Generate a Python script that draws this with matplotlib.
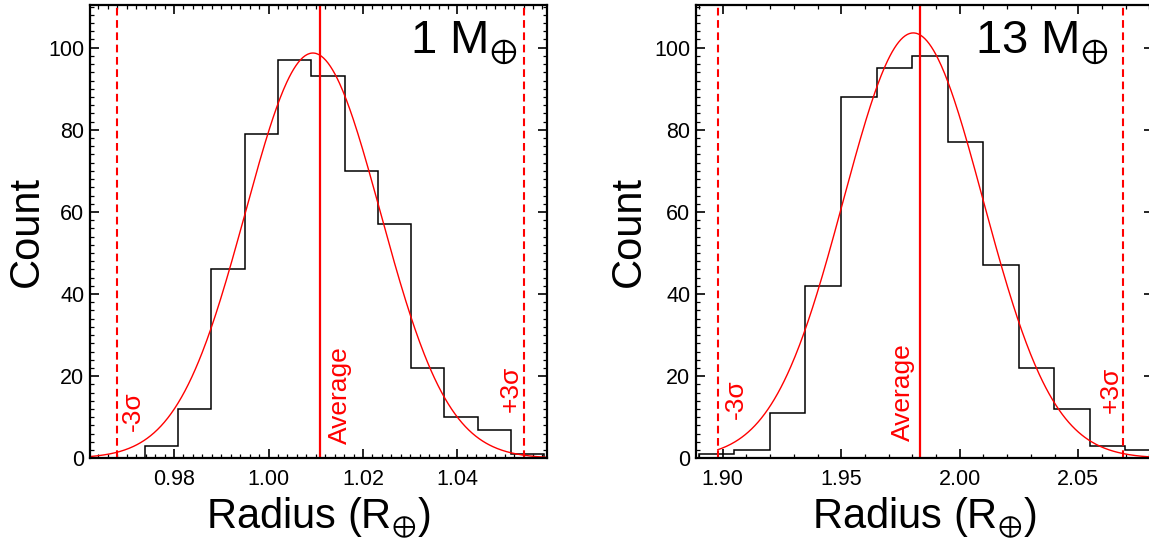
import numpy as np
import matplotlib
matplotlib.use("Agg")
import matplotlib.pyplot as plt
from matplotlib.ticker import MultipleLocator

plt.rcParams['font.family'] = ['Liberation Sans', 'DejaVu Sans']
plt.rcParams['mathtext.fontset'] = 'custom'
plt.rcParams['mathtext.rm'] = 'Liberation Sans'
plt.rcParams['mathtext.it'] = 'Liberation Sans:italic'
plt.rcParams['mathtext.fallback'] = 'stixsans'

# ---- data ----
# 1 Earth mass
m1_bin_start = 0.9738
m1_bin_width = 0.00705
m1_counts = [3, 12, 46, 79, 97, 93, 70, 57, 22, 10, 7, 1]
m1_average = 1.0110
m1_minus3 = 0.9679
m1_plus3 = 1.0540
m1_fit = (98.7, 1.0094, 0.0143)      # amplitude, centre, sigma of the red curve
m1_xlim = (0.9622, 1.0589)
m1_xticks = [0.98, 1.00, 1.02, 1.04]

# 13 Earth masses
m13_bin_start = 1.8899
m13_bin_width = 0.0150
m13_counts = [1, 2, 11, 42, 88, 95, 98, 77, 47, 22, 12, 3, 2]
m13_average = 1.9833
m13_minus3 = 1.8979
m13_plus3 = 2.0690
m13_fit = (103.6, 1.9804, 0.0295)
m13_xlim = (1.8887, 2.0814)
m13_xticks = [1.90, 1.95, 2.00, 2.05]

ylim_top = 110.4
yticks = [0, 20, 40, 60, 80, 100]

RED = '#ff0000'
px = 0.72  # points per pixel at dpi 100


def panel(ax, start, width, counts, avg, m3, p3, fit, xlim, xticks, xminor,
          curve_from, title, title_x, ylab_x, txt):
    edges = start + width * np.arange(len(counts) + 1)
    ax.stairs(counts, edges, color='k', lw=1.1)

    amp, mu, sig = fit
    xs = np.linspace(curve_from, xlim[1], 400)
    ax.plot(xs, amp * np.exp(-0.5 * ((xs - mu) / sig) ** 2), color=RED, lw=1.0)

    ax.axvline(avg, color=RED, lw=1.6)
    for xv in (m3, p3):
        ax.axvline(xv, color=RED, lw=1.5, linestyle=(0, (3.7, 2.2)))

    # rotated labels next to the lines: (x, y, dx_px, ha, text)
    for xv, yv, dx, ha, s in txt:
        ax.annotate(s, xy=(xv, yv), xytext=(dx * px, 0), textcoords='offset points',
                    rotation=90, ha=ha, va='bottom', color=RED, fontsize=19)

    ax.text(title_x, 0.894, title, transform=ax.transAxes, ha='right',
            va='baseline', fontsize=34)

    ax.set_xlim(*xlim)
    ax.set_ylim(0, ylim_top)
    ax.set_xticks(xticks)
    ax.set_xticklabels(['%.2f' % t for t in xticks])
    ax.set_yticks(yticks)
    ax.xaxis.set_minor_locator(MultipleLocator(xminor))
    ax.yaxis.set_minor_locator(MultipleLocator(2))
    ax.tick_params(which='both', direction='in', top=True, right=True, labelsize=15.5)
    ax.tick_params(which='major', length=6.5, width=1.2)
    ax.tick_params(which='minor', length=3.2, width=0.9)
    ax.tick_params(axis='x', pad=8)
    ax.tick_params(axis='y', pad=4)
    for sp in ax.spines.values():
        sp.set_linewidth(1.6)

    ax.set_xlabel('Radius ($\\mathrm{R}_{\u2295}$)', fontsize=30)
    ax.set_ylabel('Count', fontsize=30)
    ax.xaxis.set_label_coords(0.5, -0.082)
    ax.yaxis.set_label_coords(ylab_x, 0.5)


fig = plt.figure(figsize=(11.49, 5.48), dpi=100)
ax1 = fig.add_axes([0.0783, 0.1637, 0.3975, 0.8272])
ax2 = fig.add_axes([0.6057, 0.1637, 0.3975, 0.8272])

panel(ax1, m1_bin_start, m1_bin_width, m1_counts, m1_average, m1_minus3, m1_plus3,
      m1_fit, m1_xlim, m1_xticks, 0.002, m1_xlim[0], '1 $\\mathrm{M}_{\u2295}$', 0.935,
      -0.094,
      [(m1_minus3, 6.7, 3.5, 'left', '-3σ'),
       (m1_average, 3.6, 7, 'left', 'Average'),
       (m1_plus3, 11.3, -1, 'right', '+3σ')])

panel(ax2, m13_bin_start, m13_bin_width, m13_counts, m13_average, m13_minus3, m13_plus3,
      m13_fit, m13_xlim, m13_xticks, 0.01, m13_minus3, '13 $\\mathrm{M}_{\u2295}$', 0.903,
      -0.1025,
      [(m13_minus3, 9.5, 6, 'left', '-3σ'),
       (m13_average, 4.2, -5.5, 'right', 'Average'),
       (m13_plus3, 11.1, -1, 'right', '+3σ')])

fig.savefig('out.png', dpi=100)
